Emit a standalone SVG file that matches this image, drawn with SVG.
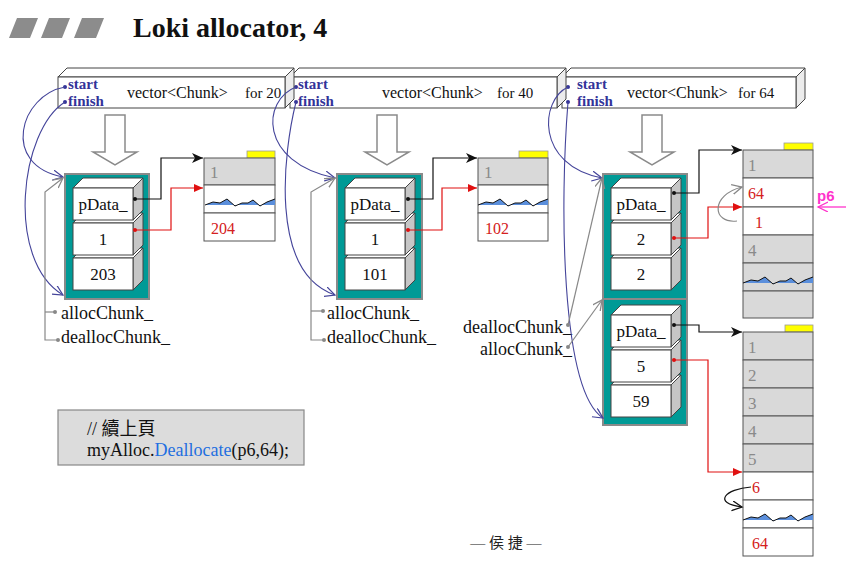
<svg xmlns="http://www.w3.org/2000/svg" xmlns:xlink="http://www.w3.org/1999/xlink" width="858" height="583" viewBox="0 0 858 583">
<style>
.serif{font-family:"Liberation Serif","Noto Sans CJK TC",serif}
.vb{fill:#fff;stroke:#444;stroke-width:1}
.vs{fill:#ececec;stroke:#444;stroke-width:1}
.teal{fill:#009a96;stroke:#8a8a8a;stroke-width:2}
.memg{fill:#d9d9d9;stroke:#555;stroke-width:1}
.memw{fill:#fff;stroke:#555;stroke-width:1}
.yel{fill:#ffff00;stroke:#999;stroke-width:0.8}
.hollow{fill:#fff;stroke:#8a8a8a;stroke-width:1.5}
.sf{font-size:15px;font-weight:bold;fill:#333399}
.vt{font-size:16px;fill:#111}
.ft{font-size:15px;fill:#111}
.ct{font-size:17px;fill:#111;text-anchor:middle}
.lab{font-size:18px;fill:#111}
.gnum{font-size:17px;fill:#8a8a8a}
.rnum{font-size:16px;fill:#d42020}
.blk{fill:none;stroke:#111;stroke-width:1.2}
.red{fill:none;stroke:#e01010;stroke-width:1.2}
.gry{fill:none;stroke:#888;stroke-width:1.2}
.blu{fill:none;stroke:#44449a;stroke-width:1.1}
</style>
<defs>
<marker id="mBlk" markerUnits="userSpaceOnUse" markerWidth="12" markerHeight="10" refX="11" refY="5" orient="auto"><path d="M0,0 L11,5 L0,10 L3,5 z" fill="#111"/></marker>
<marker id="mRed" markerUnits="userSpaceOnUse" markerWidth="10" markerHeight="10" refX="9" refY="4" orient="auto"><path d="M0,0 L9,4 L0,8 z" fill="#e01010"/></marker>
<marker id="mGry" markerUnits="userSpaceOnUse" markerWidth="12" markerHeight="12" refX="10" refY="5" orient="auto"><path d="M0,0 L10,5 L0,10" fill="none" stroke="#888" stroke-width="1.3"/></marker>
<marker id="mBlu" markerUnits="userSpaceOnUse" markerWidth="12" markerHeight="12" refX="10" refY="5" orient="auto"><path d="M0,0 L10,5 L0,10" fill="none" stroke="#44449a" stroke-width="1.2"/></marker>
<marker id="mBlkO" markerUnits="userSpaceOnUse" markerWidth="12" markerHeight="12" refX="10" refY="5" orient="auto"><path d="M0,0 L10,5 L0,10" fill="none" stroke="#111" stroke-width="1.3"/></marker>
<marker id="mMag" markerUnits="userSpaceOnUse" markerWidth="12" markerHeight="12" refX="10" refY="5" orient="auto"><path d="M0,0 L10,5 L0,10" fill="none" stroke="#ff33cc" stroke-width="1.3"/></marker>
<g id="cube">
<polygon points="0,10 10,0 70,0 60,10" fill="#fff" stroke="#444"/>
<polygon points="60,10 70,0 70,32 60,42" fill="#c6c6c6" stroke="#444"/>
<rect x="0" y="10" width="60" height="32" fill="#fff" stroke="#444"/>
</g>
<g id="wave">
<polygon points="1,20 9,17 16,18 23,14 31,21 38,18 44,18 49,15 56,21 63,17 71,14 71,20" fill="#5b8fdc"/>
<polyline points="1,20 9,17 16,18 23,14 31,21 38,18 44,18 49,15 56,21 63,17 71,14" fill="none" stroke="#111" stroke-width="1"/>
</g>
</defs>
<rect width="858" height="583" fill="#fff"/>

<g id="title">
<polygon points="17,18 38,18 30,38 9,38" fill="#8c8c8c"/>
<polygon points="49,18 70,18 62,38 41,38" fill="#8c8c8c"/>
<polygon points="82,18 104,18 96,38 74,38" fill="#8c8c8c"/>
<text x="133" y="37" class="serif" font-size="28" font-weight="bold" fill="#111">Loki allocator, 4</text>
</g>

<g id="vec64">
<polygon class="vb" points="562,77 571,68 805,68 796,77"/>
<polygon class="vs" points="796,77 805,68 805,99 796,108"/>
<rect class="vb" x="562" y="77" width="234" height="31"/>
<circle cx="568" cy="87" r="2" fill="#333399"/>
<circle cx="568" cy="102" r="2" fill="#333399"/>
<text x="577" y="89" class="serif sf">start</text>
<text x="577" y="106" class="serif sf">finish</text>
<text x="627" y="98" class="serif vt">vector&lt;Chunk&gt;</text>
<text x="738" y="98" class="serif ft">for 64</text>
</g>
<g id="vec40">
<polygon class="vb" points="290,77 299,68 566,68 557,77"/>
<polygon class="vs" points="557,77 566,68 566,99 557,108"/>
<rect class="vb" x="290" y="77" width="267" height="31"/>
<circle cx="296" cy="87" r="2" fill="#333399"/>
<circle cx="296" cy="102" r="2" fill="#333399"/>
<text x="298" y="89" class="serif sf">start</text>
<text x="298" y="106" class="serif sf">finish</text>
<text x="382" y="98" class="serif vt">vector&lt;Chunk&gt;</text>
<text x="497" y="98" class="serif ft">for 40</text>
</g>
<g id="vec20">
<polygon class="vb" points="58,77 67,68 294,68 285,77"/>
<polygon class="vs" points="285,77 294,68 294,99 285,108"/>
<rect class="vb" x="58" y="77" width="227" height="31"/>
<circle cx="65" cy="87" r="2" fill="#333399"/>
<circle cx="65" cy="102" r="2" fill="#333399"/>
<text x="68" y="89" class="serif sf">start</text>
<text x="68" y="106" class="serif sf">finish</text>
<text x="127" y="98" class="serif vt">vector&lt;Chunk&gt;</text>
<text x="245" y="98" class="serif ft">for 20</text>
</g>

<g id="down-arrows">
<polygon class="hollow" points="105,115 125,115 125,152 137,152 115,165 93,152 105,152"/>
<polygon class="hollow" points="377,115 397,115 397,152 409,152 387,165 365,152 377,152"/>
<polygon class="hollow" points="642,115 662,115 662,152 674,152 652,165 630,152 642,152"/>
</g>

<g id="chunks20">
<rect class="teal" x="65" y="174" width="84" height="125"/>
<use xlink:href="#cube" x="73" y="248"/>
<use xlink:href="#cube" x="73" y="213"/>
<use xlink:href="#cube" x="73" y="178"/>
<text x="103" y="210" class="serif ct">pData_</text>
<text x="103" y="245" class="serif ct">1</text>
<text x="103" y="280" class="serif ct">203</text>
</g>
<g id="chunks40">
<rect class="teal" x="337" y="174" width="85" height="125"/>
<use xlink:href="#cube" x="345" y="248"/>
<use xlink:href="#cube" x="345" y="213"/>
<use xlink:href="#cube" x="345" y="178"/>
<text x="375" y="210" class="serif ct">pData_</text>
<text x="375" y="245" class="serif ct">1</text>
<text x="375" y="280" class="serif ct">101</text>
</g>
<g id="chunks64">
<rect class="teal" x="603" y="174" width="84" height="251"/>
<line x1="603" y1="299" x2="687" y2="299" stroke="#8a8a8a" stroke-width="2"/>
<use xlink:href="#cube" x="611" y="248"/>
<use xlink:href="#cube" x="611" y="213"/>
<use xlink:href="#cube" x="611" y="178"/>
<text x="641" y="210" class="serif ct">pData_</text>
<text x="641" y="245" class="serif ct">2</text>
<text x="641" y="280" class="serif ct">2</text>
<use xlink:href="#cube" x="611" y="375"/>
<use xlink:href="#cube" x="611" y="340"/>
<use xlink:href="#cube" x="611" y="305"/>
<text x="641" y="337" class="serif ct">pData_</text>
<text x="641" y="372" class="serif ct">5</text>
<text x="641" y="407" class="serif ct">59</text>
</g>

<g id="mem20">
<rect class="yel" x="247" y="151" width="28" height="7"/>
<rect class="memg" x="204" y="158" width="71" height="27"/>
<rect class="memw" x="204" y="185" width="71" height="28"/>
<rect class="memw" x="204" y="213" width="71" height="28"/>
<use xlink:href="#wave" x="204" y="185"/>
<text x="210" y="178" class="serif gnum">1</text>
<text x="211" y="234" class="serif rnum">204</text>
</g>
<g id="mem40">
<rect class="yel" x="519" y="151" width="29" height="7"/>
<rect class="memg" x="478" y="158" width="70" height="27"/>
<rect class="memw" x="478" y="185" width="70" height="28"/>
<rect class="memw" x="478" y="213" width="70" height="28"/>
<use xlink:href="#wave" x="477" y="185"/>
<text x="484" y="178" class="serif gnum">1</text>
<text x="485" y="234" class="serif rnum">102</text>
</g>
<g id="mem64a">
<rect class="yel" x="784" y="143" width="29" height="7"/>
<rect class="memg" x="743" y="150" width="70" height="28"/>
<rect class="memw" x="743" y="178" width="70" height="29"/>
<rect class="memw" x="743" y="207" width="70" height="28"/>
<rect class="memg" x="743" y="235" width="70" height="28"/>
<rect class="memg" x="743" y="263" width="70" height="28"/>
<rect class="memg" x="743" y="291" width="70" height="27"/>
<use xlink:href="#wave" x="742" y="263"/>
<text x="748" y="171" class="serif gnum">1</text>
<text x="748" y="199" class="serif rnum">64</text>
<text x="755" y="228" class="serif rnum">1</text>
<text x="748" y="256" class="serif gnum">4</text>
</g>
<g id="mem64b">
<rect class="yel" x="785" y="325" width="28" height="7"/>
<rect class="memg" x="743" y="332" width="70" height="28"/>
<rect class="memg" x="743" y="360" width="70" height="28"/>
<rect class="memg" x="743" y="388" width="70" height="28"/>
<rect class="memg" x="743" y="416" width="70" height="28"/>
<rect class="memg" x="743" y="444" width="70" height="28"/>
<rect class="memw" x="743" y="472" width="70" height="28"/>
<rect class="memw" x="743" y="500" width="70" height="28"/>
<rect class="memw" x="743" y="528" width="70" height="28"/>
<use xlink:href="#wave" x="742" y="500"/>
<text x="748" y="353" class="serif gnum">1</text>
<text x="748" y="381" class="serif gnum">2</text>
<text x="748" y="409" class="serif gnum">3</text>
<text x="748" y="437" class="serif gnum">4</text>
<text x="748" y="465" class="serif gnum">5</text>
<text x="752" y="493" class="serif rnum">6</text>
<text x="752" y="549" class="serif rnum">64</text>
</g>

<g id="labels">
<text x="61" y="319" class="serif lab">allocChunk_</text>
<text x="61" y="343" class="serif lab">deallocChunk_</text>
<text x="327" y="319" class="serif lab">allocChunk_</text>
<text x="327" y="343" class="serif lab">deallocChunk_</text>
<text x="572" y="333" class="serif lab" text-anchor="end">deallocChunk_</text>
<text x="572" y="355" class="serif lab" text-anchor="end">allocChunk_</text>
<text x="817" y="201" font-family="Liberation Sans,Arial,sans-serif" font-size="15" font-weight="bold" fill="#ff33cc">p6</text>
</g>

<g id="connectors">
<polyline class="blk" points="135,199 161,199 161,158 203,158" marker-end="url(#mBlk)"/>
<polyline class="red" points="135,230 171,230 171,188 203,188" marker-end="url(#mRed)"/>
<polyline class="blk" points="408,199 433,199 433,158 477,158" marker-end="url(#mBlk)"/>
<polyline class="red" points="408,230 442,230 442,188 477,188" marker-end="url(#mRed)"/>
<polyline class="blk" points="674,193 699,193 699,150 742,150" marker-end="url(#mBlk)"/>
<polyline class="red" points="674,238 708,238 708,207 742,207" marker-end="url(#mRed)"/>
<polyline class="blk" points="674,325 699,325 699,332 742,332" marker-end="url(#mBlk)"/>
<polyline class="red" points="674,360 708,360 708,472 742,472" marker-end="url(#mRed)"/>
<g fill="#111"><circle cx="135" cy="199" r="2"/><circle cx="408" cy="199" r="2"/><circle cx="674" cy="193" r="2"/><circle cx="674" cy="325" r="2"/></g>
<g fill="#e01010"><circle cx="135" cy="230" r="2"/><circle cx="408" cy="230" r="2"/><circle cx="674" cy="238" r="2"/><circle cx="674" cy="360" r="2"/></g>
<path class="blu" d="M65,87 C20,95 0,165 63,177" marker-end="url(#mBlu)"/>
<path class="blu" d="M65,102 C20,130 5,260 63,295" marker-end="url(#mBlu)"/>
<path class="blu" d="M296,87 C262,100 258,162 335,178" marker-end="url(#mBlu)"/>
<path class="blu" d="M296,102 C284,150 268,272 335,295" marker-end="url(#mBlu)"/>
<path class="blu" d="M568,87 C540,100 535,165 602,178" marker-end="url(#mBlu)"/>
<path class="blu" d="M568,102 C560,200 560,390 603,418" marker-end="url(#mBlu)"/>
<path class="gry" d="M58,340 H45 V192 L63,178" marker-end="url(#mGry)"/>
<path class="gry" d="M45,312 H55"/>
<path class="gry" d="M324,340 H311 V192 L335,178" marker-end="url(#mGry)"/>
<path class="gry" d="M311,311 H323"/>
<path class="gry" d="M568,325 L602,178" marker-end="url(#mGry)"/>
<path class="gry" d="M568,347 L602,300" marker-end="url(#mGry)"/>
<g fill="#888"><circle cx="55" cy="312" r="2"/><circle cx="58" cy="340" r="2"/><circle cx="323" cy="311" r="2"/><circle cx="324" cy="340" r="2"/><circle cx="568" cy="325" r="2"/><circle cx="568" cy="347" r="2"/></g>
<path class="gry" d="M737,221 C712,224 710,195 742,187" marker-end="url(#mGry)"/>
<path class="blk" d="M751,487 C725,489 712,503 742,507" marker-end="url(#mBlkO)"/>
<line x1="846" y1="207" x2="818" y2="207" stroke="#ff33cc" stroke-width="1.3" marker-end="url(#mMag)"/>
</g>

<g id="code">
<rect x="58" y="410" width="246" height="55" fill="#dcdcdc" stroke="#888" stroke-width="1.2"/>
<text x="87" y="435" class="serif" font-size="18" fill="#111">// 續上頁</text>
<text x="87" y="456" class="serif" font-size="18" fill="#111">myAlloc.<tspan fill="#1f6fe0">Deallocate</tspan>(p6,64);</text>
</g>

<g id="footer">
<text x="506" y="548" font-family="Liberation Serif,Noto Sans CJK TC,serif" font-size="15" fill="#222" text-anchor="middle">— 侯 捷 —</text>
</g>
</svg>
